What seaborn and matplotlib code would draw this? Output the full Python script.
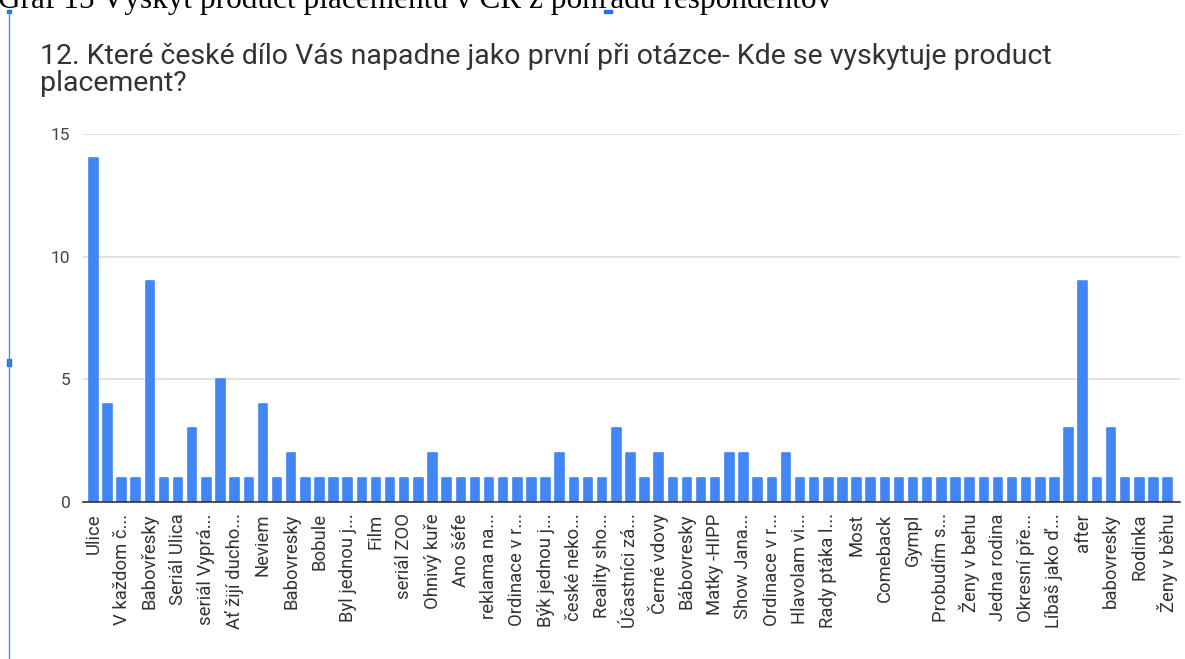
import numpy as np
import pandas as pd
import matplotlib
matplotlib.use("Agg")
import matplotlib.pyplot as plt
import seaborn as sns
from matplotlib.lines import Line2D
from matplotlib.patches import Rectangle

# answers shown on the axis (every other bar is labelled)
shown_labels = [
    "Ulice", "V každom č...", "Babovřesky", "Seriál Ulica", "seriál Vyprá...",
    "Ať žijí ducho...", "Neviem", "Babovresky", "Bobule", "Byl jednou j...",
    "Film", "seriál ZOO", "Ohnivý kuře", "Ano šéfe", "reklama na...",
    "Ordinace v r...", "Býk jednou j...", "české neko...", "Reality sho...",
    "Účastníci zá...", "Černé vdovy", "Bábovresky", "Matky -HIPP",
    "Show Jana...", "Ordinace v r...", "Hlavolam vi...", "Rady ptáka l...",
    "Most", "Comeback", "Gympl", "Probudím s...", "Ženy v behu",
    "Jedna rodina", "Okresní pře...", "Líbaš jako ď...", "after",
    "babovresky", "Rodinka", "Ženy v běhu",
]

# number of respondents per answer (77 answers)
counts = [
    14, 4, 1, 1, 9, 1, 1, 3, 1, 5,
    1, 1, 4, 1, 2, 1, 1, 1, 1, 1,
    1, 1, 1, 1, 2, 1, 1, 1, 1, 1,
    1, 1, 1, 2, 1, 1, 1, 3, 2, 1,
    2, 1, 1, 1, 1, 2, 2, 1, 1, 2,
    1, 1, 1, 1, 1, 1, 1, 1, 1, 1,
    1, 1, 1, 1, 1, 1, 1, 1, 1, 3,
    9, 1, 3, 1, 1, 1, 1,
]

title = "12. Které české dílo Vás napadne jako první při otázce- Kde se vyskytuje product\nplacement?"
caption = "Graf 15 Výskyt product placementu v ČR z pohľadu respondentov"

df = pd.DataFrame({"pos": np.arange(len(counts)), "count": counts})

sns.set_style("white")
plt.rcParams["font.family"] = ["Roboto", "DejaVu Sans"]

fig = plt.figure(figsize=(11.85, 6.59), dpi=100)
ax = fig.add_axes([0.070, 0.238, 0.926, 0.559])

sns.barplot(data=df, x="pos", y="count", native_scale=True, color="#4285F4",
            saturation=1, width=0.6, ax=ax)
# slightly rounded bar tops
for bar in ax.patches:
    bar.set_edgecolor("#4285F4")
    bar.set_linewidth(1.2)
    bar.set_joinstyle("round")

ax.set_xlim(-0.73, 76.9)
ax.set_ylim(0, 15)
ax.set_yticks([0, 5, 10, 15])
ax.set_yticklabels(["0", "5", "10", "15"], fontsize=12.5, color="#444444")
ax.set_xticks(np.arange(0, len(counts), 2))
ax.set_xticklabels(shown_labels, rotation=90, fontsize=13.3, color="#333333",
                   va="top", ha="center")
ax.tick_params(axis="x", length=0, pad=8)
ax.tick_params(axis="y", length=0, pad=9)
ax.set_xlabel("")
ax.set_ylabel("")
ax.grid(axis="y", color="#dddddd", linewidth=1.2)
ax.set_axisbelow(True)
for s in ["top", "right", "left"]:
    ax.spines[s].set_visible(False)
ax.spines["bottom"].set_color("#333333")
ax.spines["bottom"].set_linewidth(1.2)

fig.text(40 / 1185, 1 - 43 / 659, title, fontsize=20.5, color="#333333",
         va="top", ha="left", linespacing=1.0)

# cropped document caption and page edge
fig.text(-0.002, 1 - 8 / 659, caption, fontsize=22.5, color="black",
         family="Liberation Serif", va="baseline", ha="left")
fig.add_artist(Line2D([9 / 1185, 9 / 1185], [0, 1 - 12 / 659],
                      color="#4a90e2", linewidth=1))
fig.add_artist(Rectangle((7 / 1185, 1 - 366 / 659), 4 / 1185, 7 / 659,
                         color="#1a73e8"))
fig.add_artist(Rectangle((7 / 1185, 1 - 13 / 659), 4 / 1185, 3 / 659,
                         color="#1a73e8"))
fig.add_artist(Rectangle((604 / 1185, 1 - 13 / 659), 8 / 1185, 3 / 659,
                         color="#1a73e8"))

fig.savefig("out.png", dpi=100)
